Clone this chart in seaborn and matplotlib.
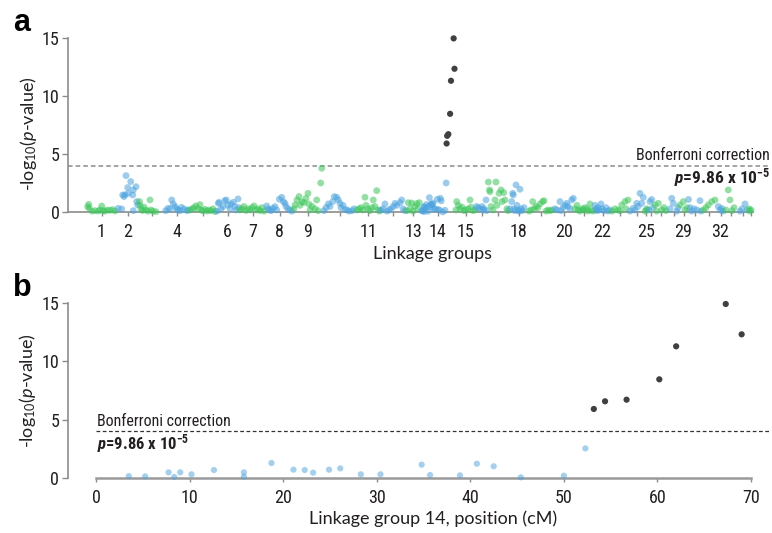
import numpy as np
import pandas as pd
import matplotlib
matplotlib.use("Agg")
import matplotlib.pyplot as plt
from matplotlib import font_manager as fm
import seaborn as sns

# linkage group lengths (cM) in plotting order, and which ones get a label
LG_LENGTHS = [62, 44, 52, 48, 54, 46, 54, 54, 60, 66, 48, 52, 28, 70, 42, 22, 44, 38,
              52, 40, 40, 34, 36, 30, 8, 12, 28, 22, 18, 28, 28, 18, 24, 22, 10]
LG_LABELS = ["1", "2", "", "4", "", "6", "7", "8", "9", "", "11", "", "13", "14", "15",
             "", "", "18", "", "20", "", "22", "", "", "25", "", "", "", "29", "", "",
             "32", "", "", ""]

# (position in group cM, -log10 p) per linkage group; LG14 comes from panel b arrays
LG_POINTS = [
    [(3.4, 0.48), (5.4, 0.68), (6.6, 0.34), (12, 0.1), (18, 0.14), (24.6, 0.11), (28, 0.2),
     (31.4, 0.54), (34.6, 0.14), (38, 0.1), (42.6, 0.2), (48, 0.17), (53.4, 0.23), (58, 0.11)],
    [(2.6, 0.34), (9.4, 0.29), (11.4, 1.49), (14, 1.35), (16, 1.5), (18, 3.15), (21.4, 2.12),
     (22.6, 1.63), (27.4, 2.64), (31.4, 1.49), (32.6, 1.92), (32.6, 0.14), (38, 2.2),
     (39.4, 0.92), (41.4, 0.63)],
    [(1, 0.92), (2, 0.6), (4, 0.3), (7, 0.15), (10, 0.45), (14, 0.2), (18, 0.1), (22, 1.06),
     (24, 0.2), (28, 0.1), (34, 0.05)],
    [(1.4, 0.14), (6, 0.34), (10, 0.29), (13.4, 1.06), (16.6, 0.72), (20, 0.5), (23.4, 0.3),
     (26, 0.2), (30, 0.14), (33, 0.43), (38, 0.29), (44, 0.14), (46, 0.2)],
    [(2, 0.2), (6, 0.29), (10, 0.4), (14, 0.55), (18, 0.3), (22, 0.66), (24, 0.2), (28, 0.14),
     (32, 0.26), (36, 0.1), (40, 0.2), (44, 0.14), (48, 0.3), (52, 0.06)],
    [(2, 0.1), (4.6, 0.77), (6, 0.86), (10, 0.3), (14, 0.5), (17.4, 1.0), (20.6, 1.06),
     (24, 0.6), (28, 0.3), (30, 0.72), (34.6, 0.86), (38, 0.5), (40, 0.2), (44, 1.15), (46, 0.4)],
    [(2, 0.2), (6, 0.3), (10, 0.5), (14, 0.15), (18, 0.3), (22, 0.2), (26, 0.4), (30, 0.55),
     (34, 0.2), (38, 0.3), (42, 0.15), (46, 0.4), (50, 0.1)],
    [(1.4, 0.55), (4, 0.3), (7.4, 0.2), (10, 0.14), (14, 0.35), (18, 0.49), (21.4, 0.2),
     (26.6, 1.12), (31.4, 1.29), (34.6, 0.92), (38, 0.77), (40, 0.5), (44, 0.3), (48, 0.2), (52, 0.1)],
    [(2, 0.3), (4, 0.63), (8, 1.06), (12, 1.35), (14, 0.6), (18, 0.9), (22, 0.83), (26, 1.2),
     (30, 1.63), (32, 0.7), (34, 0.2), (38, 0.5), (44, 0.3), (47.4, 1.06), (50, 0.14),
     (55.4, 2.52), (57.4, 3.78)],
    [(2, 0.14), (6, 0.4), (10.6, 0.72), (14, 0.5), (19.4, 0.92), (22.6, 1.35), (27.4, 1.29),
     (30.6, 1.06), (34, 0.77), (36, 0.4), (40, 0.6), (44, 0.26), (48, 0.2), (52, 0.1), (58, 0.14), (62, 0.3)],
    [(2, 0.2), (6, 0.3), (10, 0.4), (14, 0.2), (18, 1.29), (20, 0.6), (24, 0.3), (28, 0.14),
     (32, 0.4), (34.6, 1.06), (38, 0.5), (41.4, 1.86), (44, 0.2), (47, 0.1)],
    [(2, 0.2), (6, 0.3), (10, 0.72), (14, 0.1), (18, 0.2), (22, 0.3), (26.6, 0.5), (30, 0.77),
     (34, 0.6), (40, 0.83), (43.4, 1.06), (46, 0.3), (50, 0.14)],
    [(2, 0.14), (4.6, 0.83), (8, 0.3), (11.4, 0.8), (14, 0.1), (18, 0.5), (21.4, 0.75),
     (24, 0.3), (26.6, 0.83)],
    None,
    [(2, 0.2), (3.4, 0.92), (6.6, 0.6), (10, 0.3), (14, 0.45), (18, 0.14), (22, 0.2), (26, 0.3),
     (30, 1.06), (32, 0.45), (36, 0.14), (40, 0.2)],
    [(1, 0.5), (4, 0.4), (8, 0.3), (12, 0.5), (14, 0.2), (16, 0.3), (20, 1.06), (21, 0.14)],
    [(2.6, 2.6), (5, 1.92), (6, 1.77), (8, 0.5), (12, 0.2), (16, 1.06), (18, 2.6), (20, 0.6),
     (24, 1.63), (28, 1.92), (30, 0.92), (33.4, 1.69), (36, 1.06), (40, 0.3), (42, 0.14)],
    [(2, 0.3), (5.4, 0.92), (7.4, 1.63), (8.6, 1.49), (10, 0.3), (12, 0.14), (14, 2.35),
     (16, 0.6), (18, 0.2), (20, 0.1), (22, 1.98), (24, 0.3), (26, 0.14), (30, 0.4)],
    [(2, 0.1), (6, 0.2), (9.4, 0.92), (12, 0.3), (16, 0.5), (20, 0.4), (24, 0.72), (29.4, 0.92),
     (32, 1.0), (36, 0.1), (40, 0.2), (44, 0.14), (48, 0.2)],
    [(2, 0.3), (6, 0.2), (12, 0.92), (14, 0.14), (18, 0.4), (22, 0.6), (25.4, 0.77), (28, 0.5),
     (32, 0.3), (35.4, 1.06), (38.6, 1.2)],
    [(2, 0.3), (6, 0.6), (8, 0.2), (12, 0.1), (16, 0.3), (18, 0.2), (22, 0.4), (26, 0.3),
     (28, 0.1), (32, 0.72), (34, 0.2), (38, 0.1)],
    [(2, 0.6), (4, 0.3), (6, 0.14), (8, 0.4), (10, 0.2), (14, 0.72), (16, 0.3), (20, 0.14),
     (24, 0.4), (28, 0.1), (32, 0.2)],
    [(2, 0.1), (8, 0.3), (14, 0.2), (18, 0.14), (21.4, 0.63), (28, 0.92), (30, 0.3), (34, 1.06)],
    [(2, 0.1), (8, 0.34), (12, 0.2), (15.4, 0.77), (18, 0.5), (22, 1.63), (25.4, 0.77), (28.6, 1.28)],
    [(2, 0.1), (5.4, 0.3), (6, 0.2)],
    [(2, 0.2), (4, 0.92), (7.4, 1.1), (10, 0.4)],
    [(2, 0.63), (5.4, 0.1), (8.6, 0.77), (15.4, 0.2), (20, 0.4), (24, 0.14)],
    [(4, 0.3), (7.4, 1.2), (10.6, 0.77), (17.4, 0.1), (20, 0.4)],
    [(2, 0.63), (8.6, 0.92), (12, 0.2), (16, 0.4)],
    [(1, 1.1), (4, 0.4), (7.4, 0.1), (12, 0.3), (18, 0.2), (24, 1.0), (26, 0.1)],
    [(2.6, 0.2), (8, 0.4), (12.6, 0.63), (19.4, 0.92), (26, 1.06)],
    [(4.6, 0.5), (8, 0.2), (11.4, 0.34), (14, 0.1)],
    [(2, 0.2), (6.6, 1.92), (10, 1.06), (14, 0.14), (18, 0.4)],
    [(6, 0.1), (10, 0.3), (16, 0.72), (20, 0.2)],
    [(2, 0.3), (4, 0.1), (6, 0.2)],
]

# linkage group 14 markers (panel b)
LG14_CM = [3.5, 5.25, 7.75, 8.36, 9.0, 10.2, 12.6, 15.8, 15.8, 18.75, 21.1, 22.3, 23.2, 24.9,
           26.1, 28.3, 30.4, 34.8, 35.7, 38.9, 40.7, 42.5, 45.4, 50.0, 52.3, 53.2, 54.4, 56.7,
           60.2, 62.0, 67.3, 69.0]
LG14_LOGP = [0.14, 0.11, 0.46, 0.06, 0.46, 0.29, 0.66, 0.46, 0.09, 1.26, 0.69, 0.66, 0.43, 0.69,
             0.80, 0.29, 0.29, 1.12, 0.23, 0.20, 1.20, 0.98, 0.03, 0.17, 2.52, 5.91, 6.57, 6.71,
             8.46, 11.30, 14.94, 12.33]

P_BONF = 9.86e-5
THRESHOLD = -np.log10(P_BONF)

BLUE = "#4aa3df"
GREEN = "#3cc75a"
DARK = "#404040"
AXIS_GREY = "#8c8c8c"
TXT = "#231f20"


def pick_narrow():
    # the original uses a condensed face; take the first narrow one that is installed
    cands = [("Liberation Sans Narrow", "normal"), ("Roboto Condensed", "normal"),
             ("Open Sans Condensed", "normal"), ("Noto Sans Condensed", "normal"),
             ("DejaVu Sans Condensed", "normal"), ("Noto Sans", "condensed"),
             ("DejaVu Sans", "condensed"), ("Open Sans", "condensed"), ("Roboto", "condensed")]
    for fam, stretch in cands:
        try:
            path = fm.findfont(fm.FontProperties(family=fam, stretch=stretch),
                               fallback_to_default=False)
        except Exception:
            continue
        low = path.lower()
        if "condensed" in low or "narrow" in low:
            return fam, stretch
    return "Lato", "normal"


sns.set_style("ticks")
NFAM, NSTRETCH = pick_narrow()
plt.rcParams["font.family"] = [NFAM, "DejaVu Sans"]
plt.rcParams["font.stretch"] = NSTRETCH
plt.rcParams["mathtext.fontset"] = "custom"
plt.rcParams["mathtext.rm"] = "Lato"
plt.rcParams["mathtext.it"] = "Lato:italic"
plt.rcParams["mathtext.bf"] = f"{NFAM}:bold:italic:stretch={NSTRETCH}"
plt.rcParams["mathtext.sf"] = f"{NFAM}:bold:stretch={NSTRETCH}"

# ---- build panel a table
offsets = np.concatenate([[0], np.cumsum(LG_LENGTHS)[:-1]])
centers = offsets + np.array(LG_LENGTHS) / 2
total = float(np.sum(LG_LENGTHS))
rows = []
for i, pts in enumerate(LG_POINTS):
    if pts is None:
        pts = list(zip(LG14_CM, LG14_LOGP))
    for cm, v in pts:
        if v > THRESHOLD:
            cls = "sig"
        else:
            cls = "green" if i % 2 == 0 else "blue"
        rows.append((offsets[i] + cm, v, cls))
df_a = pd.DataFrame(rows, columns=["pos", "logp", "cls"])
df_b = pd.DataFrame({"pos": LG14_CM, "logp": LG14_LOGP})
df_b["cls"] = np.where(df_b["logp"] > THRESHOLD, "sig", "blue")

W, H = 772, 533
fig = plt.figure(figsize=(W / 100, H / 100), dpi=100)
ax_a = fig.add_axes([68 / W, 1 - 215.2 / H, 702 / W, 181 / H])
ax_b = fig.add_axes([67.7 / W, 1 - 480.6 / H, 702.3 / W, 180.8 / H])

pal = {"green": GREEN, "blue": BLUE}


def style_axis(ax):
    sns.despine(ax=ax)
    ax.set_ylim(-0.25, 15.3)
    ax.spines["bottom"].set_position(("data", 0))
    ax.spines["left"].set_bounds(0, 15)
    for s in ["left", "bottom"]:
        ax.spines[s].set_color(AXIS_GREY)
        ax.spines[s].set_linewidth(1.2)
    ax.set_yticks([0, 5, 10, 15])
    ax.tick_params(axis="y", length=4, width=1, color=AXIS_GREY, pad=2,
                   labelsize=13, labelcolor=TXT)
    ax.tick_params(axis="x", length=3, width=1, color=AXIS_GREY, pad=5,
                   labelsize=13, labelcolor=TXT)


# ---- panel a
lo = df_a[df_a["cls"] != "sig"]
hi = df_a[df_a["cls"] == "sig"]
sns.scatterplot(data=lo, x="pos", y="logp", hue="cls", palette=pal, s=24, alpha=0.55,
                edgecolor="none", legend=False, ax=ax_a, zorder=3, clip_on=False)
sns.scatterplot(data=hi, x="pos", y="logp", color=DARK, s=20, edgecolor="none",
                legend=False, ax=ax_a, zorder=4)
style_axis(ax_a)
ax_a.set_xlim(-36, 1368)
ax_a.spines["bottom"].set_bounds(-36, total)
ax_a.set_xticks(centers)
ax_a.set_xticklabels(LG_LABELS)
ax_a.axhline(THRESHOLD, color="#8a8a8a", lw=1.1, ls=(0, (3, 2)), zorder=1)
ax_a.set_xlabel("Linkage groups", fontsize=13, family="Lato", stretch="normal", color=TXT)
ax_a.set_ylabel("-log$_{10}$($\\mathit{p}$-value)", fontsize=13, family="Lato",
                stretch="normal", color=TXT)
ax_a.xaxis.set_label_coords(0.519, -0.172)
ax_a.yaxis.set_label_coords(-0.042, 0.449)
ax_a.text(1368, THRESHOLD + 0.45, "Bonferroni correction", ha="right", va="baseline",
          fontsize=11.5, color=TXT)
ax_a.text(1368, THRESHOLD - 1.5, "$\\mathbf{p}$=9.86 x 10$^{\\mathsf{-5}}$", ha="right",
          va="baseline", fontsize=12.5, fontweight="bold", color=TXT)

# ---- panel b
lo = df_b[df_b["cls"] != "sig"]
hi = df_b[df_b["cls"] == "sig"]
sns.scatterplot(data=lo, x="pos", y="logp", color=BLUE, s=20, alpha=0.5, edgecolor="none",
                legend=False, ax=ax_b, zorder=3, clip_on=False)
sns.scatterplot(data=hi, x="pos", y="logp", color=DARK, s=20, edgecolor="none",
                legend=False, ax=ax_b, zorder=4)
style_axis(ax_b)
ax_b.set_xlim(-3.03, 72.03)
ax_b.spines["bottom"].set_bounds(0, 70)
ax_b.spines["bottom"].set_linewidth(1.8)
ax_b.spines["bottom"].set_color("#9a9a9a")
ax_b.set_xticks(np.arange(0, 71, 10))
ax_b.hlines(THRESHOLD, 0, 72.03, color="#333333", lw=0.9, ls=(0, (3, 2)), zorder=1)
ax_b.set_xlabel("Linkage group 14, position (cM)", fontsize=13, family="Lato",
                stretch="normal", color=TXT)
ax_b.set_ylabel("-log$_{10}$($\\mathit{p}$-value)", fontsize=13, family="Lato",
                stretch="normal", color=TXT)
ax_b.xaxis.set_label_coords(0.52, -0.165)
ax_b.yaxis.set_label_coords(-0.0416, 0.496)
ax_b.text(0.1, THRESHOLD + 0.45, "Bonferroni correction", ha="left", va="baseline",
          fontsize=11.5, color=TXT)
ax_b.text(0.1, THRESHOLD - 1.6, "$\\mathbf{p}$=9.86 x 10$^{\\mathsf{-5}}$", ha="left",
          va="baseline", fontsize=12, fontweight="bold", color=TXT)

# panel letters
fig.text(13 / W, 1 - 31 / H, "a", fontsize=22, fontweight="bold", family="Liberation Sans",
         stretch="normal", color="black")
fig.text(13 / W, 1 - 296 / H, "b", fontsize=22, fontweight="bold", family="Liberation Sans",
         stretch="normal", color="black")

fig.savefig("out.png", dpi=100)
